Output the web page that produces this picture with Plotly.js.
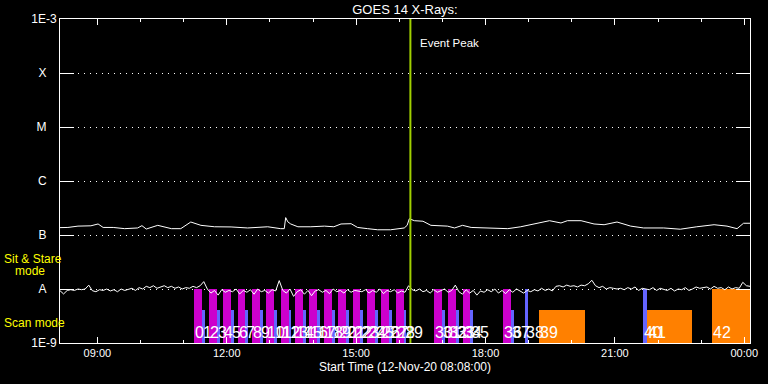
<!DOCTYPE html>
<html>
<head>
<meta charset="utf-8">
<script src="https://cdn.plot.ly/plotly-3.0.1.min.js"></script>
<style>html,body{margin:0;padding:0;background:#000;}#chart{width:768px;height:384px;}</style>
</head>
<body>
<div id="chart"></div>
<script>
// ---------- DATA ----------
const axisStart = '08:08';
const axisEnd = '00:08';
const peakTime = '16:15:30';

// GOES long channel (1-8 A), W/m^2
const longTimes = ['08:08','08:19','08:33','08:51','09:01','09:08','09:22','09:38','09:56','10:02','10:08','10:24','10:43','10:56','11:10','11:24','11:43','12:06','12:29','12:57','13:15','13:20','13:22','13:25','13:29','13:39','13:57','14:16','14:29','14:39','14:53','15:02','15:16','15:30','15:48','16:07','16:11','16:14','16:21','16:33','16:44','17:07','17:17','17:28','17:40','17:58','18:31','18:49','19:12','19:29','19:45','19:54','20:13','20:31','20:45','21:03','21:22','21:40','22:08','22:31','22:54','23:18','23:36','23:50','23:59','00:08'];
const longFlux = [1.37e-7,1.38e-7,1.46e-7,1.48e-7,1.60e-7,1.38e-7,1.38e-7,1.31e-7,1.35e-7,1.49e-7,1.29e-7,1.51e-7,1.31e-7,1.31e-7,1.74e-7,1.51e-7,1.42e-7,1.41e-7,1.35e-7,1.42e-7,1.31e-7,1.31e-7,2.10e-7,1.75e-7,1.60e-7,1.42e-7,1.42e-7,1.46e-7,1.42e-7,1.60e-7,1.62e-7,1.38e-7,1.31e-7,1.25e-7,1.25e-7,1.35e-7,1.51e-7,2.00e-7,1.84e-7,1.80e-7,1.51e-7,1.46e-7,1.35e-7,1.51e-7,1.38e-7,1.35e-7,1.31e-7,1.42e-7,1.67e-7,1.84e-7,1.67e-7,1.84e-7,1.84e-7,1.60e-7,1.55e-7,1.74e-7,1.46e-7,1.35e-7,1.35e-7,1.28e-7,1.42e-7,1.55e-7,1.46e-7,1.31e-7,1.65e-7,1.65e-7];

// GOES short channel (0.5-4 A), 5-minute samples from 08:08, in units of 1e-9 W/m^2
const shortStart = '08:08';
const shortCadenceMin = 5;
const shortUnit = 1e-9;
const shortFlux = [
 9.3,8.1,9.4,9.7,9.4,10.0,9.7,10.0,11.8,9.3,8.9,9.7,
 9.4,10.0,9.2,9.7,8.9,10.0,9.4,9.7,10.3,9.4,10.6,10.0,
 11.2,10.6,11.5,10.3,10.9,11.5,10.6,11.2,10.3,10.9,10.0,10.6,
 10.3,11.2,10.6,11.5,13.7,10.0,8.4,9.4,7.7,9.7,8.7,9.4,
 8.9,10.0,8.1,9.4,8.7,9.7,8.0,10.0,8.9,9.4,8.4,9.7,
 9.2,14.3,9.4,8.4,10.0,7.3,8.9,9.7,8.0,9.4,7.5,9.2,
 9.7,8.7,9.4,8.2,10.0,8.9,9.4,8.4,9.7,8.7,9.4,9.2,
 8.9,9.7,8.4,9.4,8.7,10.0,8.2,9.4,8.9,9.7,8.4,9.2,
 8.7,11.5,9.7,9.2,10.0,8.9,9.4,8.4,9.7,8.7,9.2,10.0,
 8.7,9.4,11.8,8.9,8.0,9.7,8.4,9.4,7.7,9.2,8.7,9.7,
 8.9,10.0,8.4,9.4,8.2,9.7,8.7,10.0,9.2,8.4,9.4,8.9,
 9.7,9.2,10.3,9.4,10.0,9.2,11.2,11.5,10.9,11.8,11.2,11.5,
 10.9,11.8,11.5,12.5,14.5,11.5,10.6,11.2,10.0,10.6,10.3,10.0,
 10.3,9.7,10.6,10.0,10.9,9.4,10.3,10.0,9.7,10.6,9.4,10.3,
 10.0,9.4,10.3,9.2,10.0,9.7,10.6,9.4,10.0,10.9,10.3,10.6,
 10.9,10.0,11.2,10.3,10.6,9.7,10.9,10.0,10.6,10.3,13.3,11.5,
 11.2
];

// Observations (numbered 0..42)
const obsStart = ['11:15','11:26','11:35','11:46','11:55','12:06','12:15','12:26','12:35','12:46','12:55','13:06','13:15','13:26','13:35','13:46','13:55','14:06','14:15','14:26','14:35','14:46','14:55','15:06','15:15','15:26','15:35','15:46','15:55','16:06','16:48','16:59','17:08','17:19','17:28','17:39','18:25','18:36','18:55','19:15','21:39','21:44','23:15'];
const obsEnd   = ['11:26','11:30','11:46','11:50','12:06','12:10','12:26','12:30','12:46','12:50','13:06','13:10','13:26','13:30','13:46','13:50','14:06','14:10','14:26','14:30','14:46','14:50','15:06','15:10','15:26','15:30','15:46','15:50','16:06','16:10','16:59','17:03','17:19','17:23','17:39','17:43','18:36','18:40','18:59','20:18','21:44','22:47','00:17'];
const obsType  = ['m','b','m','b','m','b','m','b','m','b','m','b','m','b','m','b','m','b','m','b','m','b','m','b','m','b','m','b','m','b','m','b','m','b','m','b','m','b','b','o','b','o','o'];
const obsMode  = ['sit','scan','sit','scan','sit','scan','sit','scan','sit','scan','sit','scan','sit','scan','sit','scan','sit','scan','sit','scan','sit','scan','sit','scan','sit','scan','sit','scan','sit','scan','sit','scan','sit','scan','sit','scan','sit','scan','sit','scan','sit','scan','sit'];
const modeLevel = {sit: 1.0e-8, scan: 4.1e-9};
const barBase = 1e-9;

// y-axis labels
const yTickVals = [1e-9,1e-8,1e-7,1e-6,1e-5,1e-4,1e-3];
const yTickText = ['1E-9','A\u00a0\u00a0\u00a0','B\u00a0\u00a0\u00a0','C\u00a0\u00a0\u00a0','M\u00a0\u00a0\u00a0','X\u00a0\u00a0\u00a0','1E-3'];

// ---------- HELPERS ----------
function toMs(hm){
  const p = hm.split(':').map(Number);
  const h = p[0], m = p[1], s = p[2]||0;
  return Date.UTC(2020,10, h < 8 ? 13 : 12, h, m, s);
}
function fmt(ms){ return new Date(ms).toISOString().replace('T',' ').slice(0,19); }

// ---------- TRACES ----------
const traces = [];
const colors = {m:'#cc00cc', b:'#6464ff', o:'#ff8000'};
['m','b','o'].forEach(function(k){
  const xs=[], ws=[], ys=[];
  obsType.forEach(function(t,i){
    if(t!==k) return;
    const s=toMs(obsStart[i]), e=toMs(obsEnd[i]);
    xs.push(fmt((s+e)/2)); ws.push(e-s); ys.push(modeLevel[obsMode[i]]-barBase);
  });
  traces.push({type:'bar', x:xs, y:ys, width:ws, base:barBase, marker:{color:colors[k], line:{width:0}},
    cliponaxis:false, hoverinfo:'skip'});
});

const s0 = toMs(shortStart);
traces.push({type:'scatter', mode:'lines',
  x: shortFlux.map(function(v,i){return fmt(s0 + i*shortCadenceMin*60000);}),
  y: shortFlux.map(function(v){return v*shortUnit;}),
  line:{color:'white', width:1}, hoverinfo:'skip'});
traces.push({type:'scatter', mode:'lines',
  x: longTimes.map(function(t){return fmt(toMs(t));}), y: longFlux,
  line:{color:'white', width:1}, hoverinfo:'skip'});

// ---------- ANNOTATIONS ----------
const ann = obsStart.map(function(t,i){
  return {x:fmt(toMs(t)), xref:'x', y:-9, yref:'y', text:String(i), showarrow:false,
    xanchor:'left', yanchor:'bottom', xshift:-1, yshift:0,
    font:{family:'Liberation Sans', size:16, color:'white'}};
});
ann.push({x:fmt(toMs(peakTime)), xref:'x', y:0.926, yref:'paper', text:'Event Peak', showarrow:false,
  xanchor:'left', yanchor:'middle', xshift:8, font:{size:11.5, color:'white'}});
ann.push({x:0, xref:'paper', xshift:-58, y:0.259, yref:'paper', text:'Sit & Stare', showarrow:false,
  xanchor:'left', yanchor:'middle', font:{size:12, color:'#ffff00'}});
ann.push({x:0, xref:'paper', xshift:-47, y:0.222, yref:'paper', text:'mode', showarrow:false,
  xanchor:'left', yanchor:'middle', font:{size:12, color:'#ffff00'}});
ann.push({x:0, xref:'paper', xshift:-58, y:0.062, yref:'paper', text:'Scan mode', showarrow:false,
  xanchor:'left', yanchor:'middle', font:{size:12, color:'#ffff00'}});

const layout = {
  width:768, height:384,
  paper_bgcolor:'#000', plot_bgcolor:'#000',
  margin:{l:60, r:18, t:19, b:41},
  font:{family:'Liberation Sans', color:'white', size:11},
  showlegend:false, barmode:'overlay', bargap:0,
  title:{text:'GOES 14 X-Rays:', font:{size:13, color:'white'}, x:0.5, xref:'paper', xanchor:'center', y:0.975, yref:'container', yanchor:'middle'},
  xaxis:{type:'date', range:[fmt(toMs(axisStart)), fmt(toMs(axisEnd))],
    showline:true, linecolor:'white', linewidth:1, mirror:'ticks',
    ticks:'inside', ticklen:6, tickcolor:'white', tickwidth:1,
    dtick:3*3600000, tick0:'2020-11-12 09:00:00', tickformat:'%H:%M',
    tickfont:{size:11, color:'white'},
    minor:{ticks:'inside', ticklen:3, dtick:3600000, tick0:'2020-11-12 09:00:00', tickcolor:'white', tickwidth:1, showgrid:false},
    showgrid:false, zeroline:false, fixedrange:true,
    title:{text:'Start Time (12-Nov-20 08:08:00)', font:{size:12, color:'white'}, standoff:4}},
  yaxis:{type:'log', range:[-9,-3], tickvals:yTickVals, ticktext:yTickText,
    showline:true, linecolor:'white', linewidth:1, mirror:'ticks',
    ticks:'inside', ticklen:14, tickcolor:'white', tickwidth:1,
    tickfont:{size:12, color:'white'},
    showgrid:true, gridcolor:'white', gridwidth:1, griddash:'1px,5px',
    zeroline:false, fixedrange:true},
  shapes:[{type:'line', xref:'x', yref:'paper', x0:fmt(toMs(peakTime)), x1:fmt(toMs(peakTime)), y0:0, y1:1,
    line:{color:'#a0d000', width:2}}],
  annotations: ann
};

Plotly.newPlot('chart', traces, layout, {staticPlot:true, displayModeBar:false});
</script>
</body>
</html>
